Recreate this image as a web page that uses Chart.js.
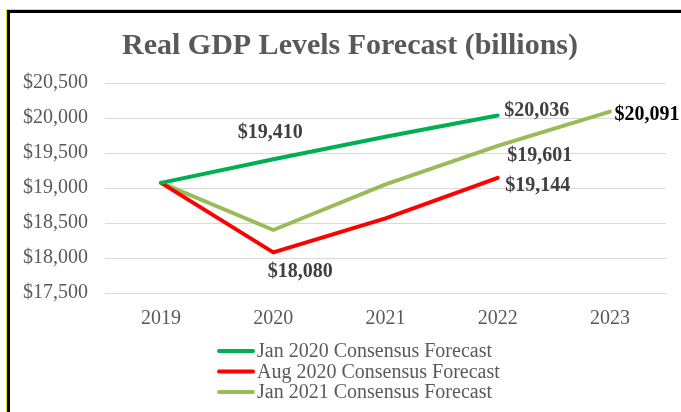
<!DOCTYPE html>
<html>
<head>
<meta charset="utf-8">
<script src="https://cdn.jsdelivr.net/npm/chart.js@4.4.0/dist/chart.umd.min.js"></script>
<style>
  html, body { margin: 0; padding: 0; background: #fff; }
  #wrap { position: relative; width: 681px; height: 412px; overflow: hidden; }
  #frame {
    position: absolute; left: 7px; top: 10px; width: 720px; height: 440px;
    border-left: 3px solid #000; border-top: 3px solid #000;
    box-shadow: -1px -1px 0 #f2e600;
    pointer-events: none;
  }
</style>
</head>
<body>
<div id="wrap">
  <canvas id="gdpChart"></canvas>
  <div id="frame"></div>
</div>
<script>
// data (billions)
const years = ['2019', '2020', '2021', '2022', '2023'];
const jan2020 = [19073, 19410, 19733, 20036, null];
const aug2020 = [19073, 18080, 18567, 19144, null];
const jan2021 = [19073, 18400, 19053, 19601, 20091];
const seriesNames = ['Jan 2020 Consensus Forecast', 'Aug 2020 Consensus Forecast', 'Jan 2021 Consensus Forecast'];
const yTicks = [17500, 18000, 18500, 19000, 19500, 20000, 20500];
const chartTitle = 'Real GDP Levels Forecast (billions)';

const SERIF = "'Liberation Serif', 'Times New Roman', serif";
const money = v => '$' + Math.round(v).toLocaleString('en-US');

// which points carry a value label, and where it sits relative to the point
const pointLabels = [
  { ds: 0, i: 1, dx: -3, dy: -26, color: '#404040' },
  { ds: 1, i: 1, dx: 27, dy: 19, color: '#404040' },
  { ds: 0, i: 3, dx: 39, dy: -5, color: '#404040' },
  { ds: 2, i: 3, dx: 42, dy: 10, color: '#404040' },
  { ds: 1, i: 3, dx: 40, dy: 8, color: '#404040' },
  { ds: 2, i: 4, dx: 37, dy: 3, color: '#000000' }
];

const valueLabels = {
  id: 'valueLabels',
  afterDatasetsDraw(chart) {
    const ctx = chart.ctx;
    ctx.save();
    ctx.font = 'bold 20px ' + SERIF;
    ctx.textAlign = 'center';
    ctx.textBaseline = 'middle';
    pointLabels.forEach(l => {
      const pt = chart.getDatasetMeta(l.ds).data[l.i];
      const v = chart.data.datasets[l.ds].data[l.i];
      ctx.fillStyle = l.color;
      ctx.fillText(money(v), pt.x + l.dx, pt.y + l.dy);
    });
    ctx.restore();
  }
};

// title + stacked legend drawn by hand
const titleAndLegend = {
  id: 'titleAndLegend',
  afterDraw(chart) {
    const ctx = chart.ctx;
    ctx.save();
    ctx.font = 'bold 30px ' + SERIF;
    ctx.fillStyle = '#595959';
    ctx.textAlign = 'center';
    ctx.textBaseline = 'middle';
    ctx.fillText(chartTitle, 350, 46);

    ctx.font = '20px ' + SERIF;
    ctx.textAlign = 'left';
    chart.data.datasets.forEach((ds, k) => {
      const y = 351 + k * 20.5;
      ctx.strokeStyle = ds.borderColor;
      ctx.lineWidth = 4;
      ctx.lineCap = 'round';
      ctx.beginPath();
      ctx.moveTo(219, y);
      ctx.lineTo(253, y);
      ctx.stroke();
      ctx.fillStyle = '#595959';
      ctx.fillText(ds.label, 257, y + 1);
    });
    ctx.restore();
  }
};

new Chart(document.getElementById('gdpChart'), {
  type: 'line',
  data: {
    labels: years,
    datasets: [
      { label: seriesNames[0], data: jan2020, borderColor: '#00b050' },
      { label: seriesNames[1], data: aug2020, borderColor: '#ff0000' },
      { label: seriesNames[2], data: jan2021, borderColor: '#9bbb59' }
    ]
  },
  options: {
    responsive: true,
    maintainAspectRatio: false,
    animation: false,
    devicePixelRatio: 1,
    layout: { padding: { left: 0, right: 15, top: 83, bottom: 67 } },
    elements: {
      line: { borderWidth: 4, tension: 0, borderCapStyle: 'round', borderJoinStyle: 'round' },
      point: { radius: 0, hoverRadius: 0 }
    },
    plugins: {
      legend: { display: false },
      tooltip: { enabled: false },
      title: { display: false }
    },
    scales: {
      x: {
        offset: true,
        grid: { display: false, drawTicks: false },
        border: { display: false },
        ticks: { color: '#595959', font: { family: SERIF, size: 20 }, padding: 14, maxRotation: 0 }
      },
      y: {
        min: yTicks[0],
        max: yTicks[yTicks.length - 1],
        afterBuildTicks: s => { s.ticks = yTicks.map(v => ({ value: v })); },
        afterFit: s => { s.width = 105; },
        grid: { color: '#d9d9d9', lineWidth: 1, drawTicks: false },
        border: { display: false },
        ticks: { color: '#595959', font: { family: SERIF, size: 20 }, padding: 17, callback: v => money(v) }
      }
    }
  },
  plugins: [valueLabels, titleAndLegend]
});
</script>
</body>
</html>
